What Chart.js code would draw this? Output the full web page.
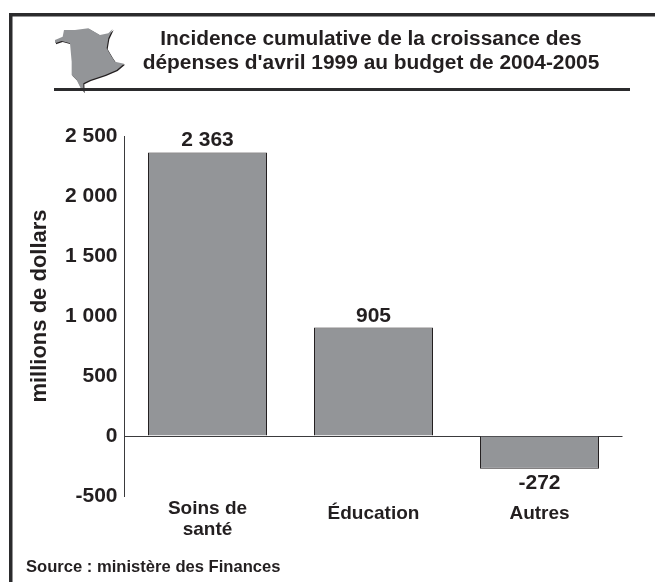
<!DOCTYPE html>
<html><head><meta charset="utf-8">
<style>html,body{margin:0;padding:0;background:#fff}canvas{display:block}</style>
<script src="https://cdn.jsdelivr.net/npm/chart.js@4"></script>
</head><body><canvas id="c" width="655" height="582"></canvas>
<script>
const categories = [['Soins de','santé'], ['Éducation'], ['Autres']];
const values = [2363, 905, -272];
const valueLabels = ['2 363', '905', '-272'];
const tickLabels = {2500:'2 500',2000:'2 000',1500:'1 500',1000:'1 000',500:'500',0:'0','-500':'-500'};
const titleLines = ['Incidence cumulative de la croissance des', "dépenses d'avril 1999 au budget de 2004-2005"];
const yTitle = 'millions de dollars';
const sourceText = 'Source : ministère des Finances';
const mapOutline = [[45,75],[68,65],[72,45],[105,45],[145,40],[180,60],[205,55],[218,42],[205,70],[200,100],[215,125],[225,140],[252,146],[230,165],[195,180],[150,195],[130,205],[131,232],[120,215],[110,195],[95,180],[95,140],[90,85],[65,78],[45,85]];

const INK = '#231f20', FONT = '"Liberation Sans", Arial, sans-serif';
const decor = {
  id:'decor',
  beforeDraw(chart){
    const c = chart.ctx; c.save();
    c.fillStyle = '#fff'; c.fillRect(0,0,655,582);
    c.fillStyle = '#2b2b2d';
    c.fillRect(9,13,646,3.5); c.fillRect(9,13,3.5,569);
    const path = (dx,dy)=>{ c.beginPath(); mapOutline.forEach((p,i)=>{const x=40+p[0]/3+dx,y=15+p[1]/3+dy; i?c.lineTo(x,y):c.moveTo(x,y);}); c.closePath(); };
    path(1,1); c.fillStyle = INK; c.fill();
    path(0,0); c.fillStyle = '#939598'; c.fill();
    c.fillStyle = '#2b2b2d'; c.fillRect(54,88,576,3);
    c.restore();
  },
  afterDraw(chart){
    const c = chart.ctx; c.save();
    c.fillStyle = INK; c.textAlign='center'; c.textBaseline='middle';
    c.font = 'bold 20.9px '+FONT;
    c.fillText(titleLines[0],371,39); c.fillText(titleLines[1],371,63);
    c.font = 'bold 21px '+FONT;
    const meta = chart.getDatasetMeta(0);
    meta.data.forEach((b,i)=>{
      const y = values[i]>=0 ? b.y-(i===0?12:11) : b.y+15;
      c.fillText(valueLabels[i],b.x,y);
    });
    c.save(); c.translate(40,306); c.rotate(-Math.PI/2);
    c.font = 'bold 22px '+FONT; c.fillText(yTitle,0,0); c.restore();
    c.textAlign='left'; c.font='bold 16.6px '+FONT;
    c.fillText(sourceText,26,567);
    c.restore();
  }
};
new Chart(document.getElementById('c'),{
  type:'bar',
  data:{labels:categories,datasets:[{data:values,backgroundColor:'#939598',borderColor:INK,borderWidth:1,barPercentage:1,categoryPercentage:0.717}]},
  options:{
    responsive:false,animation:false,
    layout:{padding:{left:60,right:32.5,top:136,bottom:0}},
    plugins:{legend:{display:false},title:{display:false},tooltip:{enabled:false}},
    scales:{
      x:{
        afterFit(s){s.height=86;},
        grid:{display:false},border:{display:false},
        ticks:{color:INK,padding:-5.5,maxRotation:0,autoSkip:false,
          font:ctx=>({family:FONT,weight:'bold',size:19,lineHeight:ctx.index===0?'21px':'30px'})}
      },
      y:{
        min:-500,max:2500,
        afterFit(s){s.width=64.5;},
        afterBuildTicks(s){s.ticks=[-500,0,500,1000,1500,2000,2500].map(v=>({value:v}));},
        grid:{drawTicks:false,lineWidth:1,color:ctx=>ctx.tick&&ctx.tick.value===0?'#3a3a3c':'rgba(0,0,0,0)'},
        border:{display:true,color:'#3a3a3c',width:1},
        ticks:{color:INK,padding:7,font:{family:FONT,weight:'bold',size:21},callback:v=>tickLabels[v]}
      }
    }
  },
  plugins:[decor]
});
</script></body></html>
